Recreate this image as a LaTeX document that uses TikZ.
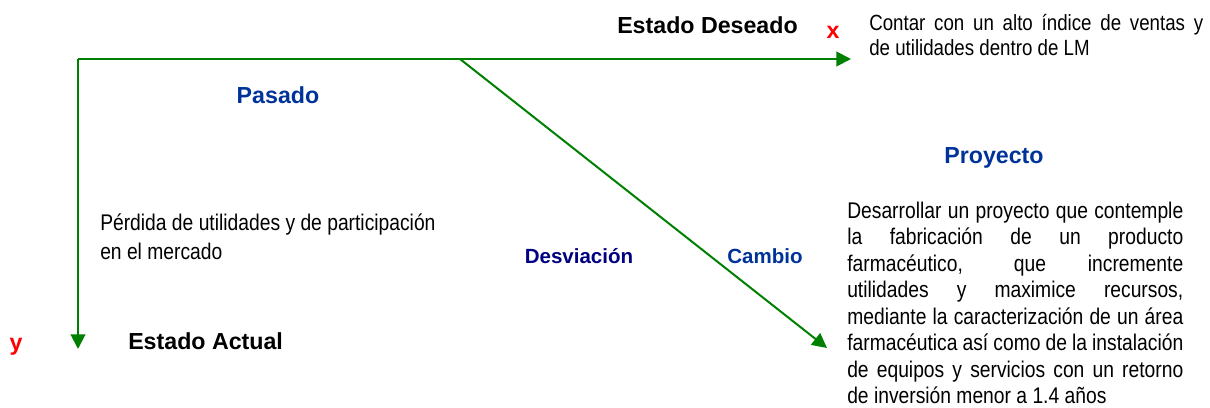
\documentclass[tikz,border=0pt]{standalone}
\usepackage{fontspec}
\setmainfont{Liberation Sans}
\newfontfamily\narrowfont[FakeStretch=0.85]{Liberation Sans}
\usetikzlibrary{arrows.meta}
\definecolor{arrowgreen}{RGB}{0,128,0}
\definecolor{labelblue}{RGB}{0,51,153}
\definecolor{navyblue}{RGB}{0,0,128}
\definecolor{markred}{RGB}{255,0,0}
\begin{document}
\begin{tikzpicture}[x=0.75pt,y=-0.75pt,
  conn/.style={draw=arrowgreen, line width=1.5pt, -{Triangle[length=11pt,width=11pt]}},
  title/.style={font=\fontsize{17.4}{20}\selectfont\bfseries, inner sep=0pt, anchor=base},
  sublabel/.style={font=\fontsize{15.4}{18}\selectfont\bfseries, inner sep=0pt, anchor=base},
  bodytext/.style={inner sep=0pt, anchor=base west}
]
\useasboundingbox (0,0) rectangle (1210,407);

% axes and connectors
\coordinate (origin) at (78,59);
\coordinate (xend) at (851,59);
\coordinate (yend) at (78,349);
\coordinate (dstart) at (460,59);
\coordinate (dend) at (827,348);
\draw[conn] (origin) -- (xend);
\draw[conn] (origin) -- (yend);
\draw[conn] (dstart) -- (dend);

% labels
\node[title, anchor=base west] (deseado) at (617,33) {Estado Deseado};
\node[title, anchor=base west] (actual) at (128,349) {Estado Actual};
\node[title, text=labelblue] (pasado) at (278,103) {Pasado};
\node[title, text=labelblue] (proyecto) at (994,163) {Proyecto};
\node[sublabel, text=navyblue] (desv) at (579,263) {Desviación};
\node[sublabel, text=labelblue] (cambio) at (765,263) {Cambio};
\node[title, text=markred] (xmark) at (833,38) {x};
\node[title, text=markred] (ymark) at (16,350) {y};

% body texts
\node[bodytext] (deseo) at (869,31) {\parbox[t]{250.5pt}{\fontsize{16.5}{18.75}\narrowfont Contar con un alto índice de ventas y\linebreak de utilidades dentro de LM}};
\node[bodytext, align=left, font=\fontsize{17}{21.75}\narrowfont] (perdida) at (100,259) {Pérdida de utilidades y de participación\\en el mercado};
\node[bodytext] (plan) at (847,218) {\parbox[t]{252pt}{\fontsize{17}{19.9}\narrowfont Desarrollar un proyecto que contemple\linebreak la fabricación de un producto\linebreak farmacéutico, que incremente\linebreak utilidades y maximice recursos,\linebreak mediante la caracterización de un área\linebreak farmacéutica así como de la instalación\linebreak de equipos y servicios con un retorno\linebreak de inversión menor a 1.4 años}};
\end{tikzpicture}
\end{document}
